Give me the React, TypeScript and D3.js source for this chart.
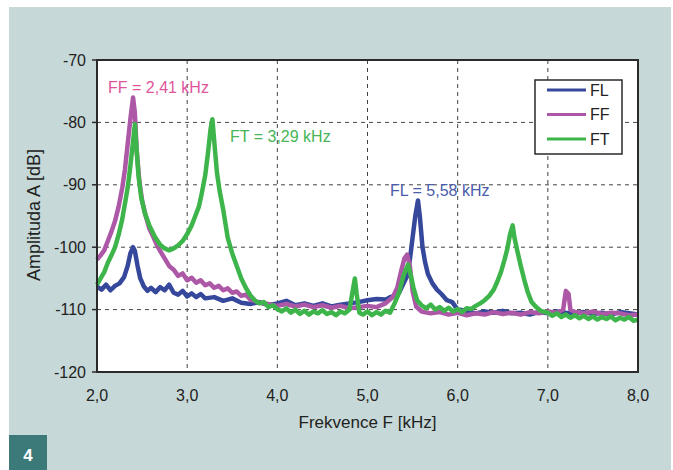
import React from "react";
import * as d3 from "d3";

// frekvence [kHz], amplituda [dB]
const flPoints: [number, number][] = [
  [2.0, -106.3], [2.05, -106.8], [2.1, -106.0], [2.15, -106.9], [2.2, -106.2], [2.25, -105.8],
  [2.3, -104.8], [2.34, -103.0], [2.37, -101.0], [2.4, -100.0], [2.42, -100.6], [2.45, -103.0],
  [2.48, -105.0], [2.52, -106.3], [2.56, -107.0], [2.6, -106.5], [2.65, -107.2], [2.7, -106.4],
  [2.75, -106.9], [2.8, -106.0], [2.85, -107.3], [2.9, -107.6], [2.95, -107.0], [3.0, -107.9],
  [3.05, -107.4], [3.1, -108.0], [3.15, -107.5], [3.2, -108.2], [3.3, -108.0], [3.4, -108.6],
  [3.5, -108.2], [3.6, -108.9], [3.7, -109.1], [3.8, -108.8], [3.9, -109.3], [4.0, -109.0],
  [4.1, -108.6], [4.2, -109.3], [4.3, -109.0], [4.4, -109.4], [4.5, -109.0], [4.6, -109.5],
  [4.7, -109.2], [4.8, -109.0], [4.9, -108.8], [5.0, -108.5], [5.1, -108.3], [5.2, -108.4],
  [5.25, -108.0], [5.3, -107.8], [5.35, -107.3], [5.4, -105.8], [5.44, -104.6], [5.47, -102.0],
  [5.5, -98.5], [5.53, -95.0], [5.56, -92.5], [5.58, -95.0], [5.61, -100.0], [5.64, -102.5],
  [5.67, -104.3], [5.72, -105.8], [5.77, -106.8], [5.82, -107.5], [5.88, -108.5], [5.94, -108.8],
  [6.0, -110.0], [6.1, -110.2], [6.2, -110.6], [6.3, -110.3], [6.4, -110.5], [6.5, -110.2],
  [6.6, -110.6], [6.7, -110.5], [6.8, -110.8], [6.9, -110.4], [7.0, -110.6], [7.1, -110.3],
  [7.2, -110.5], [7.3, -110.6], [7.4, -110.4], [7.5, -110.7], [7.6, -110.5], [7.7, -110.8],
  [7.8, -110.4], [7.9, -110.6], [8.0, -110.8],
];

const ffPoints: [number, number][] = [
  [2.0, -102.0], [2.04, -101.3], [2.08, -100.5], [2.12, -99.0], [2.16, -97.5], [2.2, -95.8],
  [2.24, -93.5], [2.28, -90.5], [2.31, -87.5], [2.34, -83.5], [2.37, -79.5], [2.4, -76.0],
  [2.42, -78.5], [2.44, -84.5], [2.47, -89.5], [2.5, -92.5], [2.54, -95.0], [2.58, -97.0],
  [2.62, -98.2], [2.66, -99.5], [2.7, -100.6], [2.75, -101.8], [2.8, -103.0], [2.85, -103.6],
  [2.9, -104.6], [2.95, -104.2], [3.0, -105.3], [3.05, -104.9], [3.1, -105.7], [3.15, -105.3],
  [3.2, -106.1], [3.25, -105.8], [3.3, -106.5], [3.35, -106.2], [3.4, -106.9], [3.45, -106.6],
  [3.5, -107.3], [3.55, -107.1], [3.6, -107.8], [3.65, -107.6], [3.7, -108.4], [3.75, -108.6],
  [3.8, -108.9], [3.9, -109.1], [4.0, -109.4], [4.1, -109.1], [4.2, -109.5], [4.3, -109.2],
  [4.4, -109.6], [4.5, -109.3], [4.6, -109.7], [4.7, -109.4], [4.8, -109.8], [4.9, -109.6],
  [5.0, -109.4], [5.1, -109.6], [5.2, -109.0], [5.28, -108.0], [5.33, -106.5], [5.37, -104.0],
  [5.41, -101.8], [5.44, -101.2], [5.47, -103.0], [5.5, -107.0], [5.54, -109.5], [5.6, -110.3],
  [5.7, -110.6], [5.8, -110.4], [5.9, -110.8], [6.0, -110.5], [6.1, -110.9], [6.2, -110.6],
  [6.3, -110.8], [6.4, -110.4], [6.5, -110.7], [6.6, -110.5], [6.7, -110.8], [6.8, -110.4],
  [6.9, -110.6], [7.0, -110.3], [7.1, -110.5], [7.17, -110.0], [7.2, -107.0], [7.23, -107.5],
  [7.25, -110.0], [7.3, -110.4], [7.4, -110.6], [7.5, -110.3], [7.6, -110.7], [7.7, -110.5],
  [7.8, -110.6], [7.9, -110.9], [8.0, -110.8],
];

const ftPoints: [number, number][] = [
  [2.0, -106.0], [2.04, -105.0], [2.08, -104.0], [2.12, -102.5], [2.16, -101.3], [2.2, -100.0],
  [2.24, -98.0], [2.28, -95.5], [2.31, -93.0], [2.34, -90.5], [2.37, -87.0], [2.4, -83.0],
  [2.42, -80.3], [2.44, -84.5], [2.46, -88.5], [2.49, -92.0], [2.53, -94.5], [2.58, -96.5],
  [2.64, -98.3], [2.7, -99.6], [2.75, -100.2], [2.8, -100.5], [2.85, -100.2], [2.9, -99.7],
  [2.95, -99.0], [3.0, -97.9], [3.05, -96.5], [3.09, -95.0], [3.13, -93.5], [3.16, -91.5],
  [3.2, -88.5], [3.23, -85.0], [3.26, -81.0], [3.28, -79.5], [3.3, -83.0], [3.33, -88.0],
  [3.36, -91.0], [3.4, -94.0], [3.45, -98.5], [3.5, -101.0], [3.55, -103.0], [3.6, -105.0],
  [3.65, -106.5], [3.7, -107.7], [3.75, -108.5], [3.8, -109.0], [3.85, -108.8], [3.9, -109.6],
  [3.95, -109.3], [4.0, -109.9], [4.05, -110.3], [4.1, -109.8], [4.15, -110.5], [4.2, -110.0],
  [4.25, -110.7], [4.3, -110.2], [4.35, -110.8], [4.4, -110.3], [4.45, -110.6], [4.5, -110.1],
  [4.55, -110.7], [4.6, -110.4], [4.65, -110.9], [4.7, -110.3], [4.75, -110.6], [4.8, -110.0],
  [4.83, -107.5], [4.86, -105.0], [4.88, -107.5], [4.91, -110.5], [4.95, -110.8], [5.0, -110.3],
  [5.05, -110.9], [5.1, -110.4], [5.15, -110.8], [5.2, -110.2], [5.25, -110.5], [5.3, -109.0],
  [5.35, -107.3], [5.4, -104.5], [5.45, -102.8], [5.48, -104.5], [5.51, -106.5], [5.55, -108.5],
  [5.6, -109.3], [5.65, -109.8], [5.7, -109.2], [5.75, -110.0], [5.8, -109.6], [5.85, -110.2],
  [5.9, -109.7], [5.95, -110.3], [6.0, -109.9], [6.05, -110.4], [6.1, -109.8], [6.15, -109.9],
  [6.2, -109.4], [6.25, -109.0], [6.3, -108.5], [6.35, -107.8], [6.4, -106.8], [6.44, -105.5],
  [6.48, -104.0], [6.52, -102.0], [6.55, -100.3], [6.58, -98.0], [6.61, -96.5], [6.63, -98.5],
  [6.66, -100.5], [6.7, -103.0], [6.74, -105.3], [6.78, -107.3], [6.82, -108.8], [6.87, -109.6],
  [6.92, -110.2], [7.0, -110.5], [7.05, -111.0], [7.1, -110.6], [7.15, -111.2], [7.2, -110.8],
  [7.25, -111.3], [7.3, -110.9], [7.35, -111.4], [7.4, -111.0], [7.45, -111.5], [7.5, -111.1],
  [7.55, -111.6], [7.6, -111.2], [7.65, -111.5], [7.7, -111.1], [7.75, -111.7], [7.8, -111.3],
  [7.85, -111.6], [7.9, -111.2], [7.95, -111.8], [8.0, -111.6],
];

const seriesNames = ["FL", "FF", "FT"];
const seriesColors = ["#36489c", "#ad58a7", "#3db54b"];
const xTicks = [2, 3, 4, 5, 6, 7, 8];
const yTicks = [-70, -80, -90, -100, -110, -120];
const peakLabels = ["FF = 2,41 kHz", "FT = 3,29 kHz", "FL = 5,58 kHz"];

const FONT = "'Liberation Sans', Arial, sans-serif";

export default function App() {
  const left = 97, top = 60, right = 638, bottom = 372;
  const x = d3.scaleLinear().domain([2, 8]).range([left, right]);
  const y = d3.scaleLinear().domain([-120, -70]).range([bottom, top]);
  const line = d3.line<[number, number]>().x(d => x(d[0])).y(d => y(d[1]));
  const all = [flPoints, ffPoints, ftPoints];
  const fmt = (v: number) => v.toFixed(1).replace(".", ",");

  return (
    <svg width={673} height={470} style={{ position: "absolute", left: 0, top: 0 }} fontFamily={FONT}>
      <rect x={0} y={0} width={673} height={470} fill="#ffffff" />
      <rect x={9} y={7} width={662} height={463} fill="#c6d8d7" />
      <rect x={9} y={435} width={38} height={35} fill="#3b7a79" />
      <text x={28} y={461} fill="#ffffff" fontSize={17} textAnchor="middle" fontWeight="bold">4</text>

      <rect x={left} y={top} width={right - left} height={bottom - top} fill="#ffffff" />

      {xTicks.slice(1, -1).map(t => (
        <line key={"gx" + t} x1={x(t)} x2={x(t)} y1={top} y2={bottom} stroke="#444" strokeDasharray="4,4" strokeWidth={1} />
      ))}
      {yTicks.slice(1, -1).map(t => (
        <line key={"gy" + t} x1={left} x2={right} y1={y(t)} y2={y(t)} stroke="#444" strokeDasharray="4,4" strokeWidth={1} />
      ))}

      {all.map((pts, i) => (
        <path key={seriesNames[i]} d={line(pts) || ""} fill="none" stroke={seriesColors[i]}
          strokeWidth={4.5} strokeLinejoin="round" />
      ))}

      <rect x={left} y={top} width={right - left} height={bottom - top} fill="none" stroke="#2a2a2a" strokeWidth={2} />

      {yTicks.map(t => (
        <g key={"ty" + t}>
          <line x1={left - 5} x2={left} y1={y(t)} y2={y(t)} stroke="#2a2a2a" strokeWidth={1.5} />
          <text x={86} y={y(t)} dy="0.35em" textAnchor="end" fontSize={16} fill="#222">{t}</text>
        </g>
      ))}
      {xTicks.map(t => (
        <text key={"tx" + t} x={x(t)} y={401} textAnchor="middle" fontSize={16} fill="#222">{fmt(t)}</text>
      ))}
      <text x={(left + right) / 2} y={428} textAnchor="middle" fontSize={17} fill="#222">Frekvence F [kHz]</text>
      <text transform="translate(40,215) rotate(-90)" textAnchor="middle" fontSize={18} fill="#222">Amplituda A [dB]</text>

      <text x={108} y={87} dy="0.35em" fontSize={16} fill="#e0559b">{peakLabels[0]}</text>
      <text x={230} y={136} dy="0.35em" fontSize={16} fill="#45b555">{peakLabels[1]}</text>
      <text x={390} y={190} dy="0.35em" fontSize={16} fill="#4a5cab">{peakLabels[2]}</text>

      <rect x={535} y={80} width={87} height={74} fill="#ffffff" stroke="#2a2a2a" strokeWidth={1.5} />
      {seriesNames.map((n, i) => (
        <g key={"lg" + n}>
          <line x1={547} x2={586} y1={90 + i * 24.5} y2={90 + i * 24.5} stroke={seriesColors[i]} strokeWidth={3} />
          <text x={590} y={90 + i * 24.5} dy="0.35em" fontSize={16} fill="#222">{n}</text>
        </g>
      ))}
    </svg>
  );
}
